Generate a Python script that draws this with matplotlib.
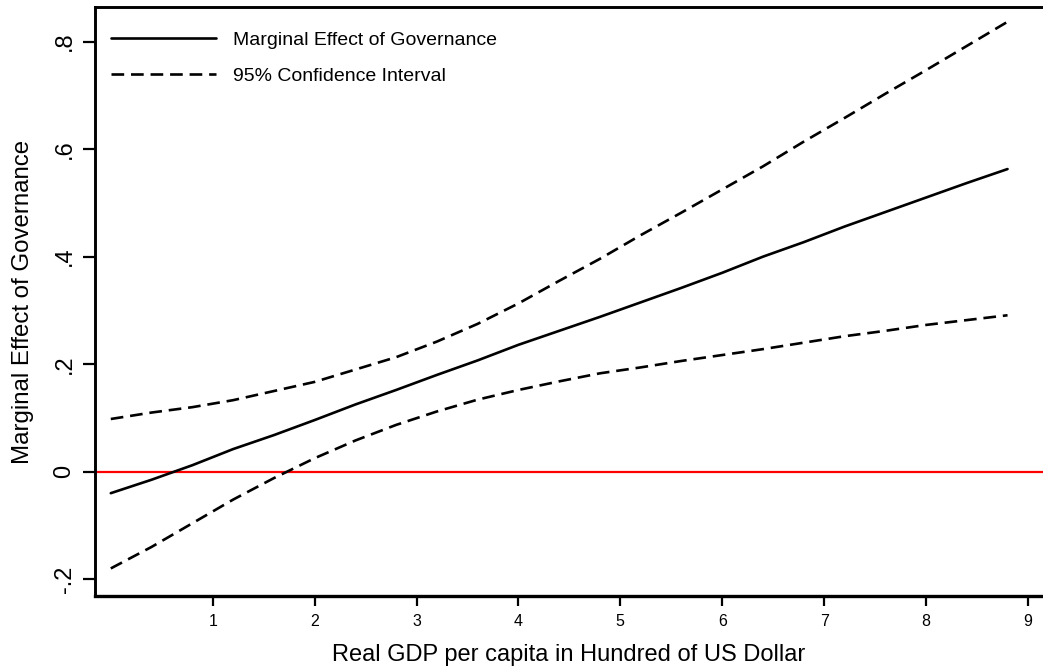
import matplotlib
matplotlib.use("Agg")
import matplotlib.pyplot as plt
from matplotlib.ticker import FixedLocator

plt.rcParams['font.family'] = ['Liberation Sans', 'DejaVu Sans']

# Data
gdp = [0.0, 0.4, 0.8, 1.2, 1.6, 2.0, 2.4, 2.8, 3.2, 3.6, 4.0, 4.4,
       4.8, 5.2, 5.6, 6.0, 6.4, 6.8, 7.2, 7.6, 8.0, 8.4, 8.8]
marginal = [-0.040, -0.015, 0.012, 0.042, 0.068, 0.096, 0.125, 0.152,
            0.180, 0.207, 0.236, 0.262, 0.288, 0.315, 0.342, 0.370,
            0.400, 0.427, 0.456, 0.483, 0.510, 0.537, 0.563]
upper_ci = [0.098, 0.110, 0.120, 0.133, 0.150, 0.167, 0.190, 0.213,
            0.242, 0.275, 0.313, 0.355, 0.396, 0.440, 0.482, 0.525,
            0.568, 0.614, 0.658, 0.703, 0.747, 0.792, 0.837]
lower_ci = [-0.180, -0.140, -0.096, -0.052, -0.012, 0.025, 0.058, 0.087,
            0.112, 0.134, 0.152, 0.168, 0.183, 0.194, 0.206, 0.217,
            0.228, 0.240, 0.252, 0.262, 0.273, 0.282, 0.291]

x_ticks = [1, 2, 3, 4, 5, 6, 7, 8, 9]
y_ticks = [-0.2, 0.0, 0.2, 0.4, 0.6, 0.8]
y_tick_labels = ['-.2', '0', '.2', '.4', '.6', '.8']

W, H = 1043, 672
fig = plt.figure(figsize=(W / 100, H / 100), dpi=100)
ax = fig.add_axes([95 / W, (H - 596) / H, (W - 95) / W, (596 - 7) / H])

LW = 1.9
DASH = (0, (4.8, 2.6))
ax.axhline(0, color='#ff0000', lw=1.6, zorder=1)
ax.plot(gdp, marginal, color='black', lw=LW, solid_capstyle='round',
        label='Marginal Effect of Governance', zorder=3)
ax.plot(gdp, upper_ci, color='black', lw=LW, ls=DASH,
        label='95% Confidence Interval', zorder=3)
ax.plot(gdp, lower_ci, color='black', lw=LW, ls=DASH, zorder=3)

ax.set_xlim(-0.155, 9.148)
ax.set_ylim(-0.2313, 0.8645)

ax.xaxis.set_major_locator(FixedLocator(x_ticks))
ax.set_xticklabels([str(v) for v in x_ticks], fontsize=11.5)
ax.yaxis.set_major_locator(FixedLocator(y_ticks))
ax.set_yticklabels(y_tick_labels, fontsize=17, rotation=90, va='center')

ax.tick_params(axis='x', direction='out', length=7, width=1.6, pad=6)
ax.tick_params(axis='y', direction='out', length=9, width=1.6, pad=5)

ax.spines['right'].set_visible(False)
ax.spines['bottom'].set_linewidth(2.4)
ax.spines['left'].set_linewidth(2.1)
ax.spines['top'].set_linewidth(2.1)

ax.set_xlabel('Real GDP per capita in Hundred of US Dollar', fontsize=17, labelpad=11)
ax.set_ylabel('Marginal Effect of Governance', fontsize=17.3, labelpad=14)

leg = ax.legend(loc='upper left', bbox_to_anchor=(16 / (W - 95), 1 - 24 / (596 - 7)),
                frameon=False, fontsize=14, handlelength=5.4, handletextpad=0.85,
                labelspacing=0.95, borderaxespad=0, borderpad=0)

fig.savefig('out.png', dpi=100)
